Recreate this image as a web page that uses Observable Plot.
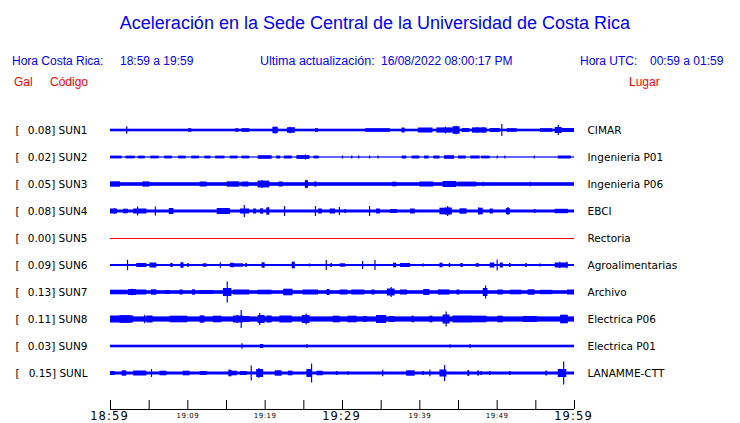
<!DOCTYPE html>
<html><head><meta charset="utf-8">
<script src="https://cdn.jsdelivr.net/npm/d3@7"></script>
<script src="https://cdn.jsdelivr.net/npm/@observablehq/plot@0.6"></script>
<style>body{margin:0;background:#fff}svg{display:block}</style>
</head><body><div id="chart"></div>
<script>
// ---- data ----
const codes = ["SUN1","SUN2","SUN3","SUN4","SUN5","SUN6","SUN7","SUN8","SUN9","SUNL"];
const places = ["CIMAR","Ingenieria P01","Ingenieria P06","EBCI","Rectoria","Agroalimentarias","Archivo","Electrica P06","Electrica P01","LANAMME-CTT"];
const peakGal = [0.08,0.02,0.05,0.08,0.00,0.09,0.13,0.11,0.03,0.15];
// background noise half-band per trace (relative units, 27 per row)
const noiseLevel = [1.3,0.6,1.8,1.5,0,1.0,1.8,2.6,1.3,1.5];
// minutes after 18:59
const tickMinutes = [0,5,10,15,20,25,30,35,40,45,50,55,60];
const labelMinutes = [0,10,20,30,40,50,60];
const tickLabels = ["18:59","19:09","19:19","19:29","19:39","19:49","19:59"];
const majorLabels = ["18:59","19:29","19:59"];

const title = "Aceleración en la Sede Central de la Universidad de Costa Rica";
const horaCR = ["Hora Costa Rica:", "18:59 a 19:59"];
const ultima = ["Ultima actualización:", "16/08/2022 08:00:17 PM"];
const horaUTC = ["Hora UTC:", "00:59 a 01:59"];
const colHeads = ["Gal", "Código", "Lugar"];

// bursts: [start min, end min, half amplitude]
const burstsSUN1 = [[10.1,10.5,1.8],[16.2,16.6,1.8],[17,18,1.8],[21,21.7,3.2],[22.9,23.9,2.8],[26.5,26.9,1.8],[33,36.2,1.8],[37.7,38.1,2.5],[39.8,41.7,2.5],[42.2,44.3,2.6],[44.3,45.2,3.8],[45.5,46.5,2],[46.8,48.7,2.6],[49.1,50.4,2],[51.3,52.6,1.8],[55.6,57.2,1.8],[57.5,58.4,3],[58.4,60,2]];
const burstsSUN2 = [[0,1.5,1.4],[2,3.2,1.4],[3.6,4.5,1.4],[5.2,6.3,1.4],[7,8,1.4],[8.8,9.8,1.4],[10.5,11.5,1.4],[12.2,13,1.4],[13.6,14.8,1.4],[15.5,16.5,1.4],[17,18,1.4],[19.1,20.9,1.8],[21.5,22,1.5],[22.5,23.5,1.5],[24.1,25.8,1.9],[26.3,27,1.4],[37.7,38.3,1.5],[39,40,1.5],[40.6,41.2,1.5],[41.8,42.6,1.5],[43.2,44.5,1.8],[45,46,1.5],[46.6,47.8,1.5],[48,49.1,1.4],[57.9,59.6,1.5]];
const burstsSUN3 = [[0,1.3,2.7],[4.2,5.1,2.6],[11.6,12.5,2.5],[15.1,16.7,2.7],[17,17.9,2.5],[19.1,20.6,3.4],[21.8,22.3,2.5],[25.2,25.6,3.7],[26.4,26.7,2.5],[36.5,37,2.3],[40,41.8,2.5],[43,44.8,3],[45,47.4,2.4]];
const burstsSUN4 = [[0,0.9,2.5],[1.7,2.3,2.3],[3,4.7,2.5],[7.6,8.2,3],[13.8,15.5,3],[16.8,18,2.5],[18.5,18.9,2.5],[19.4,19.8,2.7],[20.2,20.6,3.5],[26.9,27.4,2.5],[28.4,29.1,2.5],[30.3,30.5,2],[34.4,34.9,2.5],[36.2,37.1,2],[38.8,39.4,2.5],[42.6,43.9,3.3],[43.3,44.2,3.5],[45.2,46.1,2.7],[47.6,48.2,3.3],[49.1,49.5,2.5],[51.2,51.7,3],[54.8,55,2],[57.5,59.2,2.2]];
const burstsSUN5 = [];
const burstsSUN6 = [[3.4,4.7,2],[5.1,6,2.5],[7.8,8.1,2],[9.1,9.5,2.7],[10,10.2,2],[12,12.5,1.7],[15.5,16.1,2.2],[16.1,17.2,1.7],[17.5,17.7,2],[19.6,20,2.7],[23.5,23.9,3.3],[25.7,25.9,1.5],[28.5,28.7,2],[29.7,30.4,1.7],[36.6,37,2.3],[37.5,38.8,2],[40.4,40.6,1.5],[42.6,43,2.3],[43.8,44,2],[45.3,45.6,2],[47.3,47.7,1.8],[49.1,49.7,2.5],[50.4,50.8,2.5],[51.6,51.8,2],[53.7,53.9,2],[55.5,55.7,1.5],[57.5,59.2,2.5]];
const burstsSUN7 = [[0,2.2,2.3],[2.3,3.4,3],[3.4,4.7,2.5],[5.3,6,2.7],[7.1,7.7,2],[9,9.4,2.5],[10.6,11,2.7],[11.6,13.3,2],[14.6,15.7,4],[15.9,18,2.5],[19.1,20.9,2.3],[22.4,23.6,3.3],[24.9,26.9,2.5],[28,28.4,3],[29.7,30.7,2.5],[31.2,32.9,2.5],[33.8,34.2,2.5],[35.8,36.8,3.5],[37.5,38.4,2.5],[40.5,41.3,3],[42.4,43.9,2.6],[44.8,45.2,2.5],[48.2,48.8,4],[50.1,50.8,2.5],[51.7,53.2,2.3],[54,54.9,2.7],[55.6,57.2,2.2],[59.1,60,2.5]];
const burstsSUN8 = [[0,3,3.5],[1.2,2.7,3.8],[4.7,5.5,3.5],[7.7,10,3.3],[11.6,12.2,3.7],[13.3,14.4,3.3],[15.9,17.2,3.5],[17.2,18,3],[19.1,20,4],[20.2,20.9,3.5],[21.9,23.5,3.5],[24.8,25.8,4],[28.8,29.7,3.3],[30.7,31.9,3.3],[32.7,33.2,3],[34.4,35.7,4],[36.1,36.8,3],[39,39.3,3.3],[41.3,41.7,3.3],[43,43.9,4.5],[44.3,46.9,3.5],[46.9,48.7,3.3],[50.1,50.8,3.3],[53.4,55.2,3],[58.2,59.2,4.3]];
const burstsSUN9 = [[19.4,19.8,2]];
const burstsSUNL = [[0,0.6,2],[1.5,2.1,2.7],[3,4.7,2.5],[6.4,7.3,2.3],[9.4,10.3,2.3],[11.6,12.5,2],[15.3,15.7,3.3],[15.5,16.4,2.3],[16.8,17.7,2],[18.9,19.8,4],[21.3,22.2,2.7],[23,23.6,2.3],[25.4,26,4],[26.7,27.5,2.3],[29.2,29.4,2],[30.7,30.9,1.7],[38.3,39.4,2.7],[40.4,40.6,2],[42.6,43.5,3.5],[46.2,46.4,2.7],[47.5,47.7,2.7],[47.9,48.1,2],[49,49.2,2],[51.6,51.8,2],[56.3,56.5,2.5],[57.9,59,4]];

// spikes: [minute, half amplitude]
const spikesSUN1 = [[2.1,3.7],[21.3,3.5],[23.2,3.2],[43.3,3.5],[44.7,4.2],[47.4,3],[48.2,3],[50.6,6],[57.9,5]];
const spikesSUN2 = [[25.2,2.4],[30,1.5],[31.2,1.5],[32.1,1.5],[33.5,1.5],[34.6,1.5],[50,1.5],[51,1.5],[54.8,1.5]];
const spikesSUN3 = [[19.6,4],[25.3,4.2],[44,3.2],[48.2,2.3],[54.3,2.3]];
const spikesSUN4 = [[0.5,2.7],[3.5,4.5],[5.8,4.5],[17.3,6],[20.4,4],[22.5,5],[26.5,5],[29.6,4],[33.5,5],[43.6,5],[47.6,3.5],[51.4,4]];
const spikesSUN5 = [];
const spikesSUN6 = [[2.2,5.3],[9.3,2.7],[14.2,2.7],[27.9,5],[32.6,4],[34.2,5],[50,5.5],[58.1,3.3],[59,3.3]];
const spikesSUN7 = [[2.8,3.3],[15.1,10.5],[36.3,5],[48.5,6.5]];
const spikesSUN8 = [[4.4,4.2],[16.4,4],[16.9,9],[19.3,6],[25.3,5.5],[43.4,7.5]];
const spikesSUN9 = [[17,2.8],[25.4,2],[43.9,1.8],[46.5,2]];
const spikesSUNL = [[5.3,4],[18.2,7.5],[19.2,5],[26,9.5],[35.2,3.3],[41.3,3.3],[43.2,8],[46.3,3],[58.6,11.5]];

// ---- build tables ----
const ROW = 27;           // relative amplitude units per row
const T0 = 0, T1 = 60;
const BLUE = "#0000ff", RED = "#ff0000";
const burstLists = [burstsSUN1,burstsSUN2,burstsSUN3,burstsSUN4,burstsSUN5,burstsSUN6,burstsSUN7,burstsSUN8,burstsSUN9,burstsSUNL];
const spikeLists = [spikesSUN1,spikesSUN2,spikesSUN3,spikesSUN4,spikesSUN5,spikesSUN6,spikesSUN7,spikesSUN8,spikesSUN9,spikesSUNL];

const stations = codes.map((c, i) => ({code: c, row: i, place: places[i], gal: peakGal[i], noise: noiseLevel[i]}));
const bursts = burstLists.flatMap((l, i) => l.map(([t0, t1, a]) => ({row: i, t0, t1, a})));
const spikes = spikeLists.flatMap((l, i) => l.map(([t, a]) => ({row: i, t, a})));
const active = stations.filter(d => d.gal > 0);
const silent = stations.filter(d => d.gal === 0);
const labelled = labelMinutes.map((m, i) => ({m, label: tickLabels[i]}));
const major = labelled.filter(d => majorLabels.includes(d.label));
const minor = labelled.filter(d => !majorLabels.includes(d.label));

const chart = Plot.plot({
  width: 740, height: 423,
  marginLeft: 110, marginRight: 166, marginTop: 103, marginBottom: 23,
  style: {fontFamily: "DejaVu Sans", background: "#fff", overflow: "visible"},
  x: {domain: [T0, T1], axis: null},
  y: {domain: [-1, 10], reverse: true, axis: null},
  marks: [
    Plot.rect(active, {x1: T0, x2: T1, y1: d => d.row - d.noise / ROW, y2: d => d.row + d.noise / ROW, fill: BLUE}),
    Plot.rect(bursts, {x1: "t0", x2: "t1", y1: d => d.row - d.a / ROW, y2: d => d.row + d.a / ROW, fill: BLUE}),
    Plot.ruleX(spikes, {x: "t", y1: d => d.row - d.a / ROW, y2: d => d.row + d.a / ROW, stroke: BLUE, strokeWidth: 1.2}),
    Plot.ruleY(silent, {y: "row", x1: T0, x2: T1, stroke: RED, strokeWidth: 1}),
    // row labels
    Plot.text(stations, {y: "row", text: () => "[", frameAnchor: "left", dx: -95, textAnchor: "start", fontSize: 10.5, fill: "#000"}),
    Plot.text(stations, {y: "row", text: d => `${d.gal.toFixed(2)}] ${d.code}`, frameAnchor: "left", dx: -23, textAnchor: "end", fontSize: 10.5, fill: "#000"}),
    Plot.text(stations, {y: "row", text: "place", frameAnchor: "right", dx: 13, textAnchor: "start", fontSize: 10.5, fill: "#000"}),
    // time axis
    Plot.ruleY([10], {x1: T0, x2: T1, dy: 9, stroke: "#000"}),
    Plot.axisX({ticks: tickMinutes, tickSize: 9, tickFormat: () => "", stroke: "#000"}),
    Plot.text(major, {x: "m", text: "label", frameAnchor: "bottom", dy: 19, dx: -1, lineAnchor: "bottom", fontSize: 11.5, fill: "#000"}),
    Plot.text(minor, {x: "m", text: "label", frameAnchor: "bottom", dy: 17, lineAnchor: "bottom", fontSize: 7, fill: "#000"})
  ]
});

const svg = d3.select(chart);
svg.selectAll("text").each(function() {
  const t = this.textContent;
  if (majorLabels.includes(t)) d3.select(this).attr("letter-spacing", "1.1px");
  else if (tickLabels.includes(t)) d3.select(this).attr("letter-spacing", "0.5px");
});

const head = svg.append("g").attr("font-family", "Liberation Sans, Arial, sans-serif");
function put(txt, x, y, size, color, anchor = "start") {
  head.append("text").attr("x", x).attr("y", y).attr("font-size", size).attr("fill", color).attr("text-anchor", anchor).text(txt);
}
put(title, 375, 29, 18, BLUE, "middle");
put(horaCR[0], 12, 65, 12, BLUE); put(horaCR[1], 120, 65, 12, BLUE);
put(ultima[0], 260, 65, 12.5, BLUE); put(ultima[1], 381, 65, 12, BLUE);
put(horaUTC[0], 580, 65, 12, BLUE); put(horaUTC[1], 650, 65, 12, BLUE);
put(colHeads[0], 14, 86, 12, RED); put(colHeads[1], 50, 86, 12, RED); put(colHeads[2], 629, 86, 12, RED);

document.getElementById("chart").append(chart);
</script></body></html>
